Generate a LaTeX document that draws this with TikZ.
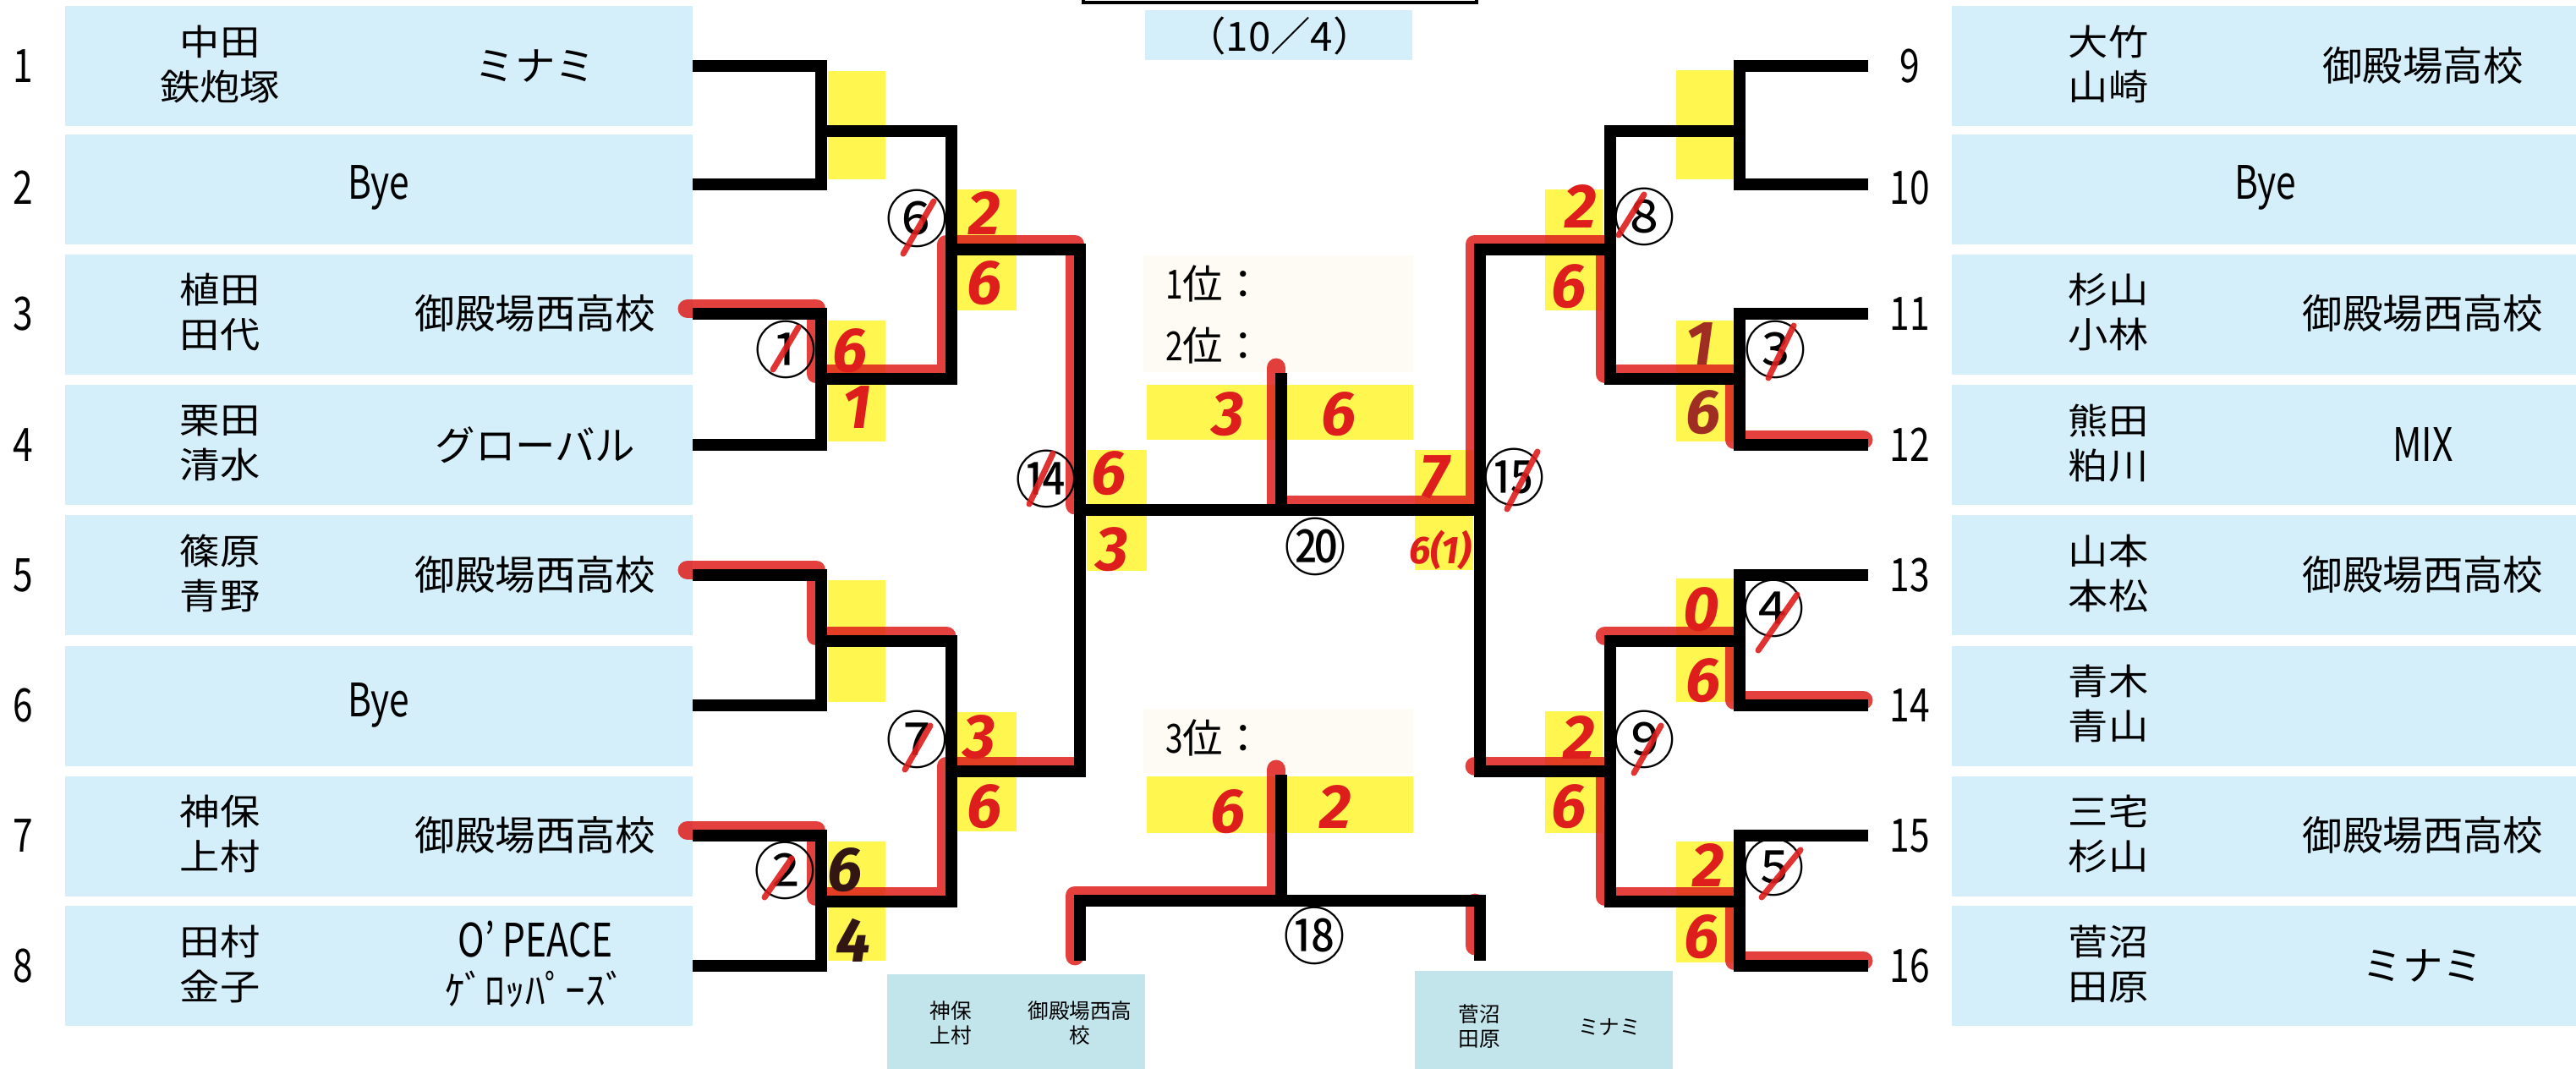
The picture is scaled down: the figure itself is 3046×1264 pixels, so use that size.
\documentclass[tikz,border=0pt]{standalone}
\usepackage{fontspec}
\newfontfamily\jp{Noto Sans CJK JP}
\newfontfamily\jpwide[FakeStretch=1.12]{Noto Sans CJK JP}
\newfontfamily\jpnarrow[FakeStretch=0.78]{Noto Sans CJK JP}
\newfontfamily\hand{Fira Sans}
\definecolor{boxblue}{RGB}{212,239,249}
\definecolor{finalbox}{RGB}{194,229,236}
\definecolor{hiyellow}{RGB}{255,246,80}
\definecolor{cream}{RGB}{254,251,244}
\definecolor{penred}{RGB}{222,30,28}
\definecolor{penbrown}{RGB}{160,45,35}
\definecolor{penblack}{RGB}{50,22,20}

\begin{document}
\begin{tikzpicture}[x=0.01cm,y=-0.01cm]
	\tikzset{entrybox/.style={fill=boxblue,minimum width=7.42cm,minimum height=1.42cm,inner sep=0pt}}
	\tikzset{pair/.style={font=\jpwide\fontsize{12}{15}\selectfont,align=center}}
	\tikzset{team/.style={font=\jp\fontsize{13.5}{16.2}\selectfont,align=center}}
	\tikzset{latin/.style={font=\jpnarrow\fontsize{15.5}{16.2}\selectfont,align=center}}
	\tikzset{seed/.style={font=\jpnarrow\fontsize{15.5}{16}\selectfont}}
	\tikzset{finalist/.style={font=\jp\fontsize{7}{8.2}\selectfont,align=center}}
	\tikzset{bk/.style={line width=3.8pt,line join=miter}}
	\tikzset{redpen/.style={penred,line width=6.5pt,opacity=.85,line join=round,line cap=round,
		transform canvas={shift={(-0.06cm,0.06cm)}}}}
	\tikzset{score/.style={font=\hand\bfseries\itshape\fontsize{21}{21}\selectfont,text=penred,inner sep=0pt}}
	\tikzset{circnum/.style={font=\jp\fontsize{21}{21}\selectfont,inner sep=0pt}}
	\tikzset{slash/.style={penred,line width=2pt,line cap=round,opacity=.9}}

	\useasboundingbox (0,0) rectangle (3046,1264);
	\clip (0,0) rectangle (3046,1264);

	% title box and date
	\draw[line width=1.2pt,fill=white] (1281,-40) rectangle (1746,3);
	\fill[boxblue] (1354,12) rectangle (1670,71);
	\node[team] (date) at (1513,42) {（10／4）};

	% entry boxes
	\node[entrybox] (b1) at (448,78) {};
	\node[entrybox,minimum height=1.29cm] (b2) at (448,224) {};
	\node[entrybox] (b3) at (448,372) {};
	\node[entrybox] (b4) at (448,526) {};
	\node[entrybox] (b5) at (448,680) {};
	\node[entrybox] (b6) at (448,835) {};
	\node[entrybox] (b7) at (448,989) {};
	\node[entrybox] (b8) at (448,1142) {};
	\node[entrybox] (b9) at (2679,78) {};
	\node[entrybox,minimum height=1.29cm] (b10) at (2679,224) {};
	\node[entrybox] (b11) at (2679,372) {};
	\node[entrybox] (b12) at (2679,526) {};
	\node[entrybox] (b13) at (2679,680) {};
	\node[entrybox] (b14) at (2679,835) {};
	\node[entrybox] (b15) at (2679,989) {};
	\node[entrybox] (b16) at (2679,1142) {};

	% ranking areas
	\fill[cream] (1352,302) rectangle (1671,440);
	\fill[cream] (1352,838) rectangle (1671,914);
	\fill[finalbox] (1049,1152) rectangle (1354,1270);
	\fill[finalbox] (1673,1148) rectangle (1978,1270);

	% score fields
	\fill[hiyellow] (979,84) rectangle (1047,212);
	\fill[hiyellow] (979,379) rectangle (1047,522);
	\fill[hiyellow] (979,686) rectangle (1047,830);
	\fill[hiyellow] (979,995) rectangle (1047,1136);
	\fill[hiyellow] (1132,224) rectangle (1202,367);
	\fill[hiyellow] (1132,842) rectangle (1202,983);
	\fill[hiyellow] (1285,532) rectangle (1356,675);
	\fill[hiyellow] (1356,455) rectangle (1671,520);
	\fill[hiyellow] (1356,918) rectangle (1671,985);
	\fill[hiyellow] (1673,532) rectangle (1742,674);
	\fill[hiyellow] (1827,224) rectangle (1895,367);
	\fill[hiyellow] (1827,841) rectangle (1895,985);
	\fill[hiyellow] (1982,83) rectangle (2050,212);
	\fill[hiyellow] (1982,379) rectangle (2050,522);
	\fill[hiyellow] (1982,684) rectangle (2050,830);
	\fill[hiyellow] (1982,995) rectangle (2050,1138);

	% bracket points
	\coordinate (e1) at (819,78);   \coordinate (e9) at (2209,78);
	\coordinate (e2) at (819,218);  \coordinate (e10) at (2209,218);
	\coordinate (e3) at (819,371);  \coordinate (e11) at (2209,371);
	\coordinate (e4) at (819,526);  \coordinate (e12) at (2209,526);
	\coordinate (e5) at (819,680);  \coordinate (e13) at (2209,680);
	\coordinate (e6) at (819,834);  \coordinate (e14) at (2209,834);
	\coordinate (e7) at (819,988);  \coordinate (e15) at (2209,988);
	\coordinate (e8) at (819,1142); \coordinate (e16) at (2209,1142);
	\coordinate (ja) at (971,155);  \coordinate (jc) at (2057,155);
	\coordinate (j1) at (971,448);  \coordinate (j3) at (2057,448);
	\coordinate (jb) at (971,758);  \coordinate (j4) at (2057,758);
	\coordinate (j2) at (971,1066); \coordinate (j5) at (2057,1066);
	\coordinate (j6) at (1125,295); \coordinate (j8) at (1904,295);
	\coordinate (j7) at (1125,912); \coordinate (j9) at (1904,912);
	\coordinate (j14) at (1277,603); \coordinate (j15) at (1750,603);
	\coordinate (j20) at (1515,603); \coordinate (w20) at (1515,441);
	\coordinate (j18) at (1515,1065); \coordinate (w18) at (1515,916);
	\coordinate (t1) at (1277,1136); \coordinate (t2) at (1750,1136);

	% winners marked in red
	\draw[redpen] (e3) -| (j1) -| (j6) -| (j14);
	\draw[redpen] (e5) -| (jb) -- (jb -| j7);
	\draw[redpen] (e7) -| (j2) -| (j7) -- (j7 -| j14);
	\draw[redpen] (e12) -| (j3) -| (j8) -| (j15) -- (j20) -- (w20);
	\draw[redpen] (e14) -| (j4) -- (j4 -| j9);
	\draw[redpen] (e16) -| (j5) -| (j9) -- (j9 -| j15);
	\draw[redpen] (t1) |- (j18) -- (w18);
	\draw[redpen] (t2) ++(0,-12) -- ++(0,-50);

	% bracket
	\draw[bk] (e1) -| (ja) |- (e2);
	\draw[bk] (e3) -| (j1) |- (e4);
	\draw[bk] (e5) -| (jb) |- (e6);
	\draw[bk] (e7) -| (j2) |- (e8);
	\draw[bk] (ja) -| (j6) |- (j1);
	\draw[bk] (jb) -| (j7) |- (j2);
	\draw[bk] (j6) -| (j14) |- (j7);
	\draw[bk] (e9) -| (jc) |- (e10);
	\draw[bk] (e11) -| (j3) |- (e12);
	\draw[bk] (e13) -| (j4) |- (e14);
	\draw[bk] (e15) -| (j5) |- (e16);
	\draw[bk] (jc) -| (j8) |- (j3);
	\draw[bk] (j4) -| (j9) |- (j5);
	\draw[bk] (j8) -| (j15) |- (j9);
	\draw[bk] (j14) -- (j15);
	\draw[bk] (j20) -- (w20);
	\draw[bk] (t1) |- (j18) -| (t2);
	\draw[bk] (j18) -- (w18);

	% seeds
	\node[seed] (n1) at (27,78) {1};
	\node[seed] (n2) at (27,222) {2};
	\node[seed] (n3) at (27,371) {3};
	\node[seed] (n4) at (27,526) {4};
	\node[seed] (n5) at (27,680) {5};
	\node[seed] (n6) at (27,834) {6};
	\node[seed] (n7) at (27,988) {7};
	\node[seed] (n8) at (27,1142) {8};
	\node[seed] (n9) at (2258,78) {9};
	\node[seed] (n10) at (2258,222) {10};
	\node[seed] (n11) at (2258,371) {11};
	\node[seed] (n12) at (2258,526) {12};
	\node[seed] (n13) at (2258,680) {13};
	\node[seed] (n14) at (2258,834) {14};
	\node[seed] (n15) at (2258,988) {15};
	\node[seed] (n16) at (2258,1142) {16};

	% players and clubs
	\node[pair] (pl1) at (260,76) {中田\\鉄炮塚};
	\node[team] (cl1) at (633,78) {ミナミ};
	\node[latin] (pl2) at (448,222) {Bye};
	\node[pair] (pl3) at (260,369) {植田\\田代};
	\node[team] (cl3) at (633,371) {御殿場西高校};
	\node[pair] (pl4) at (260,524) {栗田\\清水};
	\node[team] (cl4) at (633,526) {グローバル};
	\node[pair] (pl5) at (260,678) {篠原\\青野};
	\node[team] (cl5) at (633,680) {御殿場西高校};
	\node[latin] (pl6) at (448,834) {Bye};
	\node[pair] (pl7) at (260,986) {神保\\上村};
	\node[team] (cl7) at (633,988) {御殿場西高校};
	\node[pair] (pl8) at (260,1140) {田村\\金子};
	\node[team] (cl8) at (633,1140) {{\jpnarrow\fontsize{15.5}{16.2}\selectfont O’ PEACE}\\ｹﾞﾛｯﾊﾟｰｽﾞ};
	\node[pair] (pl9) at (2493,76) {大竹\\山崎};
	\node[team] (cl9) at (2865,78) {御殿場高校};
	\node[latin] (pl10) at (2679,222) {Bye};
	\node[pair] (pl11) at (2493,369) {杉山\\小林};
	\node[team] (cl11) at (2865,371) {御殿場西高校};
	\node[pair] (pl12) at (2493,524) {熊田\\粕川};
	\node[latin] (cl12) at (2865,526) {MIX};
	\node[pair] (pl13) at (2493,678) {山本\\本松};
	\node[team] (cl13) at (2865,680) {御殿場西高校};
	\node[pair] (pl14) at (2493,832) {青木\\青山};
	\node[pair] (pl15) at (2493,986) {三宅\\杉山};
	\node[team] (cl15) at (2865,988) {御殿場西高校};
	\node[pair] (pl16) at (2493,1140) {菅沼\\田原};
	\node[team] (cl16) at (2865,1142) {ミナミ};

	% ranking
	\node[team,anchor=west] (first) at (1366,335) {{\jpnarrow 1}位：};
	\node[team,anchor=west] (second) at (1366,408) {{\jpnarrow 2}位：};
	\node[team,anchor=west] (third) at (1366,872) {{\jpnarrow 3}位：};
	\node[finalist] (fin1) at (1124,1210) {神保\\上村};
	\node[finalist] (fin1c) at (1277,1210) {御殿場西高\\校};
	\node[finalist] (fin2) at (1749,1214) {菅沼\\田原};
	\node[finalist] (fin2c) at (1903,1214) {ミナミ};

	% match numbers
	\node[circnum] (c1) at (929,413) {①};
	\node[circnum] (c2) at (928,1029) {②};
	\node[circnum] (c3) at (2099,413) {③};
	\node[circnum] (c4) at (2097,719) {④};
	\node[circnum] (c5) at (2097,1025) {⑤};
	\node[circnum] (c6) at (1084,258) {⑥};
	\node[circnum] (c7) at (1084,874) {⑦};
	\node[circnum] (c8) at (1944,256) {⑧};
	\node[circnum] (c9) at (1944,874) {⑨};
	\node[circnum] (c14) at (1237,566) {⑭};
	\node[circnum] (c15) at (1790,564) {⑮};
	\node[circnum] (c20) at (1555,646) {⑳};
	\node[circnum] (c18) at (1554,1106) {⑱};
	\draw[slash] (c1) ++(-15,24) -- ++(30,-50);
	\draw[slash] (c2) ++(-24,32) -- ++(32,-46);
	\draw[slash] (c3) ++(-8,34) -- ++(30,-62);
	\draw[slash] (c4) ++(-18,50) -- ++(46,-66);
	\draw[slash] (c5) ++(-14,36) -- ++(46,-56);
	\draw[slash] (c6) ++(-16,42) -- ++(36,-62);
	\draw[slash] (c7) ++(-14,36) -- ++(30,-52);
	\draw[slash] (c8) ++(-30,22) -- ++(30,-48);
	\draw[slash] (c9) ++(-12,40) -- ++(32,-56);
	\draw[slash] (c14) ++(-20,30) -- ++(28,-60);
	\draw[slash] (c15) ++(-8,38) -- ++(36,-68);

	% scores
	\node[score] (s1u) at (1005,415) {6};
	\node[score] (s1l) at (1013,482) {1};
	\node[score,text=penblack] (s2u) at (999,1029) {6};
	\node[score,text=penblack] (s2l) at (1009,1112) {4};
	\node[score,text=penbrown] (s3u) at (2010,407) {1};
	\node[score,text=penbrown] (s3l) at (2014,488) {6};
	\node[score] (s4u) at (2012,721) {0};
	\node[score] (s4l) at (2014,805) {6};
	\node[score] (s5u) at (2020,1023) {2};
	\node[score] (s5l) at (2012,1108) {6};
	\node[score] (s6u) at (1164,252) {2};
	\node[score] (s6l) at (1164,335) {6};
	\node[score] (s7u) at (1158,872) {3};
	\node[score] (s7l) at (1164,954) {6};
	\node[score] (s8u) at (1869,244) {2};
	\node[score] (s8l) at (1855,339) {6};
	\node[score] (s9u) at (1867,872) {2};
	\node[score] (s9l) at (1855,954) {6};
	\node[score] (s14u) at (1311,560) {6};
	\node[score] (s14l) at (1315,650) {3};
	\node[score] (s15u) at (1696,564) {7};
	\node[score,font=\hand\bfseries\itshape\fontsize{13}{13}\selectfont] (s15l) at (1703,650) {6(1)};
	\node[score] (s20l) at (1452,490) {3};
	\node[score] (s20r) at (1583,490) {6};
	\node[score] (s18l) at (1452,960) {6};
	\node[score] (s18r) at (1579,954) {2};
\end{tikzpicture}
\end{document}
